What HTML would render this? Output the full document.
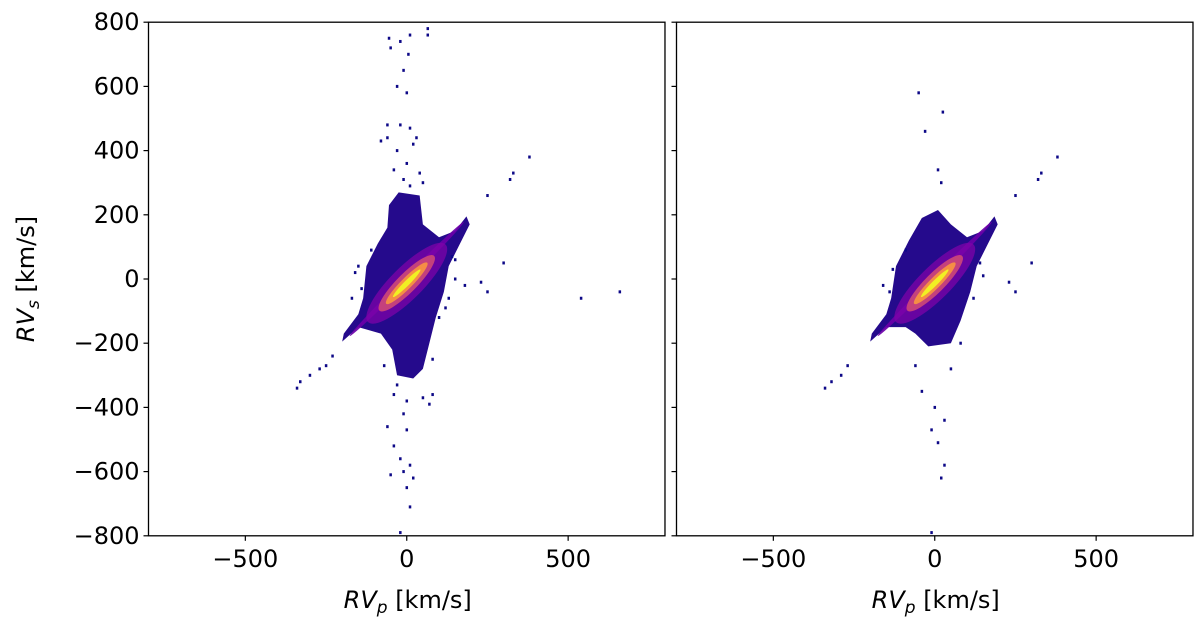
<!DOCTYPE html>
<html><head><meta charset="utf-8"><style>
body{margin:0;background:#fff;font-family:"Liberation Sans","DejaVu Sans",sans-serif}
svg text{font-family:"DejaVu Sans","Liberation Sans",sans-serif;font-size:24px;fill:#000}
</style></head><body>
<svg id="chart" width="1200" height="626" viewBox="0 0 1200 626" xmlns="http://www.w3.org/2000/svg"></svg>
<script>
const yTicks=[-800,-600,-400,-200,0,200,400,600,800];
const xTicks=[-500,0,500];
const panelLeft=[148.5,676.5];
const cloudL=[[-135,-60],[-125,40],[-90,110],[-60,160],[-55,230],[-25,270],[40,260],[50,170],[100,130],[150,150],[185,195],[195,170],[160,100],[130,40],[115,-40],[90,-120],[70,-200],[50,-280],[20,-310],[-30,-300],[-45,-220],[-80,-170],[-150,-150],[-200,-195],[-195,-170],[-150,-110]];
const cloudR=[[-135,-60],[-120,40],[-80,120],[-40,190],[10,215],[50,170],[100,130],[150,150],[185,195],[195,170],[160,100],[130,40],[110,-40],[80,-130],[50,-200],[-20,-210],[-60,-170],[-90,-150],[-150,-150],[-200,-195],[-195,-170],[-150,-110]];
const coreLen=[250,170,120,90,60];
const coreWid=[9,50,30,17,8];
const coreCol=['#6a00a8','#7e03a8','#cc4778','#f89540','#f0f921'];
const outX_L=[-55,-50,-20,10,65,65,5,-10,-30,0,-60,-80,-60,-20,10,30,-30,20,0,-40,40,-10,10,50,-40,0,50,80,-10,70,-60,0,-40,-20,-10,10,-50,20,0,10,-20,-340,-330,-300,-270,-250,-230,250,320,330,380,230,250,300,540,660,150,180,-160,-140,130,140,-110,100,-30,-170,-150,150,120,80,-70];
const outY_L=[750,720,740,760,780,760,700,650,600,580,480,430,440,480,470,440,400,420,360,340,330,310,290,300,-360,-380,-370,-360,-420,-390,-460,-470,-520,-560,-600,-580,-610,-620,-650,-710,-790,-340,-320,-300,-280,-270,-240,260,310,330,380,-10,-40,50,-60,-40,0,-20,20,-30,-60,70,90,-120,-330,-60,40,60,-90,-250,-270];
const outX_R=[-50,25,-30,10,20,-40,0,30,-10,10,30,20,-10,250,330,380,320,-340,-320,-290,-270,230,300,250,-130,-140,140,120,-60,50,-160,150,80,-90];
const outY_R=[580,520,460,340,300,-350,-400,-440,-470,-510,-580,-620,-790,260,330,380,310,-340,-320,-300,-270,-10,50,-40,30,-40,50,-60,-270,-280,-20,10,-200,90];
const svg=document.getElementById('chart');
const NS='http://www.w3.org/2000/svg';
function mk(t,a){const e=document.createElementNS(NS,t);for(const k in a)e.setAttribute(k,a[k]);svg.appendChild(e);return e;}
const sx=0.3228, sy=0.321;
function X(p,v){return panelLeft[p]+(v+800)*sx;}
function Y(v){return 279-v*sy;}
[0,1].forEach(p=>{
  const cloud=p?cloudR:cloudL;
  const poly=mk('polygon',{points:cloud.map(c=>X(p,c[0])+','+Y(c[1])).join(' '),fill:'#250a8c'});
  
  
  const cx=X(p,0),cy=Y(0);
  coreLen.forEach((L,i)=>{
    const e=mk('ellipse',{cx:cx+(i==0?0:-3),cy:cy+(i==0?0:3),rx:L*sx,ry:coreWid[i]*sx,fill:coreCol[i],opacity:i==1?0.75:0.92,transform:`rotate(-45 ${cx} ${cy})`});
    
    
  });
  const ox=p?outX_R:outX_L, oy=p?outY_R:outY_L;
  ox.forEach((v,i)=>{
    const r=mk('rect',{x:X(p,v)-1.2,y:Y(oy[i])-1.5,width:2.5,height:3,fill:'#0d0887'});
    
    
  });
  const fr=mk('rect',{x:X(p,-800),y:Y(800),width:1600*sx,height:1600*sy,fill:'none',stroke:'#000','stroke-width':1.3});
  
  
  yTicks.forEach(t=>{
    mk('line',{x1:X(p,-800)-5,x2:X(p,-800),y1:Y(t),y2:Y(t),stroke:'#000','stroke-width':1.2});
    if(p==0){const tx=mk('text',{x:X(p,-800)-9,y:Y(t)+8,'text-anchor':'end'});tx.textContent=(t<0?'\u2212'+(-t):t);
      }
  });
  xTicks.forEach(t=>{
    mk('line',{x1:X(p,t),x2:X(p,t),y1:Y(-800),y2:Y(-800)+5,stroke:'#000','stroke-width':1.2});
    const tx=mk('text',{x:X(p,t),y:Y(-800)+31,'text-anchor':'middle'});tx.textContent=(t<0?'\u2212'+(-t):t);
    
  });
  const xl=mk('text',{x:X(p,0)+1,y:608,'text-anchor':'middle'});
  xl.innerHTML='<tspan font-style="italic">RV</tspan><tspan font-style="italic" font-size="17" dy="5">p</tspan><tspan dy="-5"> [km/s]</tspan>';
  
  
});
const yl=mk('text',{x:0,y:0,'text-anchor':'middle',transform:'translate(34,279) rotate(-90)'});
yl.innerHTML='<tspan font-style="italic">RV</tspan><tspan font-style="italic" font-size="17" dy="5">s</tspan><tspan dy="-5"> [km/s]</tspan>';


</script>
</body></html>
